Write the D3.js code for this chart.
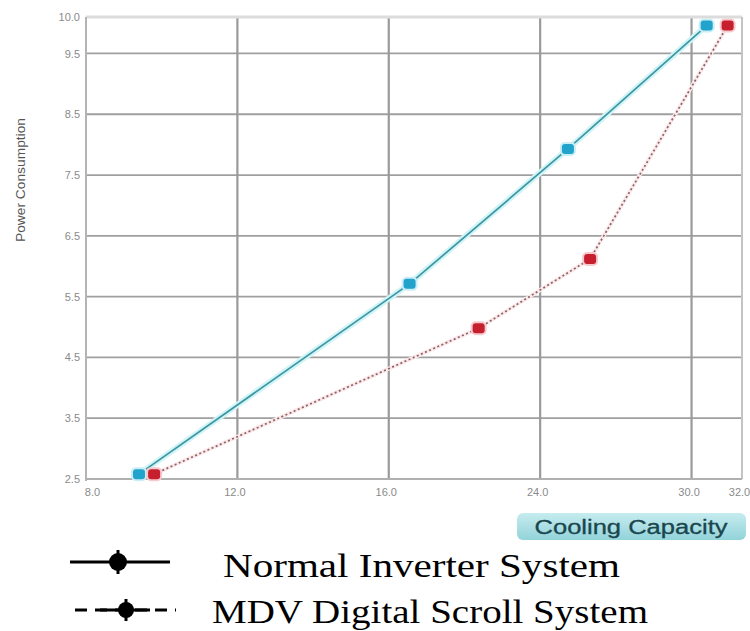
<!DOCTYPE html>
<html>
<head>
<meta charset="utf-8">
<script src="https://cdn.jsdelivr.net/npm/d3@7/dist/d3.min.js"></script>
<style>
  html, body { margin: 0; padding: 0; background: #ffffff; }
  svg { display: block; }
</style>
</head>
<body>
<svg id="chart" width="750" height="631"></svg>
<script>
// ---- data ----
const xTickValues = [8, 12, 16, 24, 30, 32];
const xTickLabels = ["8.0", "12.0", "16.0", "24.0", "30.0", "32.0"];
const yTickValues = [2.5, 3.5, 4.5, 5.5, 6.5, 7.5, 8.5, 9.5, 10.0];
const yTickLabels = ["2.5", "3.5", "4.5", "5.5", "6.5", "7.5", "8.5", "9.5", "10.0"];

const seriesNames = ["Normal Inverter System", "MDV Digital Scroll System"];
const normalCapacity = [9.4, 17.1, 25.1, 30.6];
const normalPower    = [2.58, 5.71, 7.93, 9.96];
const mdvCapacity    = [9.8, 20.75, 25.98, 31.43];
const mdvPower       = [2.58, 4.98, 6.12, 9.96];

const xTitle = "Cooling Capacity";
const yTitle = "Power Consumption";

// ---- layout ----
const svg = d3.select("#chart");
const pL = 86, pR = 742, pT = 17, pB = 479;

// piecewise axis: each labelled interval gets equal width, last keeps previous rate
const idx = [0];
for (let i = 1; i < xTickValues.length; i++) {
  const isLast = i === xTickValues.length - 1;
  const step = isLast
    ? (xTickValues[i] - xTickValues[i - 1]) / (xTickValues[i - 1] - xTickValues[i - 2])
    : 1;
  idx.push(idx[i - 1] + step);
}
const total = idx[idx.length - 1];
const x = d3.scaleLinear()
  .domain(xTickValues)
  .range(idx.map(v => pL + (v / total) * (pR - pL)));

const y = d3.scaleLinear().domain([2.5, 10.1]).range([pB, pT]);

// ---- grid ----
const grid = svg.append("g");
grid.selectAll("line.h").data(yTickValues.filter(v => v < 10)).enter().append("line")
  .attr("x1", pL).attr("x2", pR)
  .attr("y1", d => y(d)).attr("y2", d => y(d))
  .attr("stroke", "#9f9f9f").attr("stroke-width", 1.8);
grid.selectAll("line.v").data(xTickValues.slice(1, -1)).enter().append("line")
  .attr("y1", pT).attr("y2", pB)
  .attr("x1", d => x(d)).attr("x2", d => x(d))
  .attr("stroke", "#9a9a9a").attr("stroke-width", 2.2);

// frame
svg.append("line").attr("x1", pL).attr("x2", pR).attr("y1", pT).attr("y2", pT)
  .attr("stroke", "#dcdcdc").attr("stroke-width", 3);
svg.append("line").attr("x1", pR).attr("x2", pR).attr("y1", pT).attr("y2", pB)
  .attr("stroke", "#c4c4c4").attr("stroke-width", 2);
svg.append("line").attr("x1", pL).attr("x2", pL).attr("y1", pT).attr("y2", pB + 2)
  .attr("stroke", "#b4b4b4").attr("stroke-width", 2);
svg.append("line").attr("x1", pL).attr("x2", pR).attr("y1", pB).attr("y2", pB)
  .attr("stroke", "#b0b0b0").attr("stroke-width", 2);

// ---- axes (tick labels) ----
const yAxis = d3.axisLeft(y).tickValues(yTickValues)
  .tickFormat((d, i) => yTickLabels[i]).tickSize(0).tickPadding(6);
const gy = svg.append("g").attr("transform", `translate(${pL},0)`).call(yAxis);
gy.select(".domain").remove();
gy.selectAll("text").attr("font-family", "Arial, 'Liberation Sans', sans-serif")
  .attr("font-size", 11).attr("fill", "#8a8a8a")
  .attr("dy", (d) => d === 10 ? "-0.2em" : "0.32em");

const xAxis = d3.axisBottom(x).tickValues(xTickValues)
  .tickFormat((d, i) => xTickLabels[i]).tickSize(0).tickPadding(9);
const gx = svg.append("g").attr("transform", `translate(0,${pB})`).call(xAxis);
gx.select(".domain").remove();
gx.selectAll("text").attr("font-family", "Arial, 'Liberation Sans', sans-serif")
  .attr("font-size", 11).attr("fill", "#8a8a8a")
  .attr("dx", (d, i) => i === 0 ? 6 : -3);

// y title
svg.append("text")
  .attr("transform", `translate(25,${(pT + pB) / 2 - 68}) rotate(-90)`)
  .attr("text-anchor", "middle")
  .attr("font-family", "Arial, 'Liberation Sans', sans-serif")
  .attr("font-size", 12).attr("fill", "#555")
  .attr("textLength", 124).attr("lengthAdjust", "spacingAndGlyphs")
  .text(yTitle);

// x title badge
const defs = svg.append("defs");
const grad = defs.append("linearGradient").attr("id", "badge").attr("x1", 0).attr("x2", 0).attr("y1", 0).attr("y2", 1);
grad.append("stop").attr("offset", "0%").attr("stop-color", "#c6ecef");
grad.append("stop").attr("offset", "100%").attr("stop-color", "#92d3da");
svg.append("rect").attr("x", 517).attr("y", 513).attr("width", 229).attr("height", 27)
  .attr("rx", 6).attr("fill", "url(#badge)");
svg.append("text").attr("x", 631).attr("y", 534).attr("text-anchor", "middle")
  .attr("font-family", "Arial, 'Liberation Sans', sans-serif")
  .attr("font-size", 20).attr("fill", "#1a464d")
  .attr("stroke", "#1a464d").attr("stroke-width", 0.3)
  .attr("textLength", 193).attr("lengthAdjust", "spacingAndGlyphs")
  .text(xTitle);

// ---- series ----
const normal = normalCapacity.map((c, i) => ({ c, p: normalPower[i] }));
const mdv = mdvCapacity.map((c, i) => ({ c, p: mdvPower[i] }));
const line = d3.line().x(d => x(d.c)).y(d => y(d.p));

// normal: solid teal with halo
svg.append("path").datum(normal).attr("d", line).attr("fill", "none")
  .attr("stroke", "#d2f4f7").attr("stroke-width", 6).attr("stroke-linecap", "round");
svg.append("path").datum(normal).attr("d", line).attr("fill", "none")
  .attr("stroke", "#3c97a2").attr("stroke-width", 1.7);

// mdv: dotted red-gray
svg.append("path").datum(mdv).attr("d", line).attr("fill", "none")
  .attr("stroke", "#fbeaec").attr("stroke-width", 4);
svg.append("path").datum(mdv).attr("d", line).attr("fill", "none")
  .attr("stroke", "#8f6065").attr("stroke-width", 1.7).attr("stroke-dasharray", "2,2.5");

function markers(data, fill, halo) {
  const g = svg.append("g");
  g.selectAll("rect.h").data(data).enter().append("rect")
    .attr("x", d => x(d.c) - 8).attr("y", d => y(d.p) - 7)
    .attr("width", 16).attr("height", 14).attr("rx", 5).attr("fill", halo);
  g.selectAll("rect.m").data(data).enter().append("rect")
    .attr("x", d => x(d.c) - 6).attr("y", d => y(d.p) - 5)
    .attr("width", 12).attr("height", 10).attr("rx", 3).attr("fill", fill);
}
markers(normal, "#22a3cb", "#c9eef6");
markers(mdv, "#c61f2e", "#f6c9cd");

// ---- legend ----
const legend = svg.append("g");
// row 1 solid
legend.append("line").attr("x1", 70).attr("x2", 170).attr("y1", 562).attr("y2", 562)
  .attr("stroke", "#000").attr("stroke-width", 3);
legend.append("circle").attr("cx", 118).attr("cy", 562).attr("r", 9).attr("fill", "#000");
legend.append("line").attr("x1", 118).attr("x2", 118).attr("y1", 550).attr("y2", 574)
  .attr("stroke", "#000").attr("stroke-width", 3);
legend.append("text").attr("x", 223).attr("y", 577)
  .attr("font-family", "'Liberation Serif', 'Times New Roman', serif")
  .attr("font-size", 33).attr("fill", "#000")
  .attr("textLength", 397).attr("lengthAdjust", "spacingAndGlyphs")
  .text(seriesNames[0]);
// row 2 dashed
legend.append("line").attr("x1", 75).attr("x2", 176).attr("y1", 610).attr("y2", 610)
  .attr("stroke", "#000").attr("stroke-width", 3).attr("stroke-dasharray", "12,8");
legend.append("line").attr("x1", 100).attr("x2", 150).attr("y1", 610).attr("y2", 610)
  .attr("stroke", "#000").attr("stroke-width", 3);
legend.append("circle").attr("cx", 126).attr("cy", 610).attr("r", 8).attr("fill", "#000");
legend.append("line").attr("x1", 126).attr("x2", 126).attr("y1", 599).attr("y2", 621)
  .attr("stroke", "#000").attr("stroke-width", 3);
legend.append("text").attr("x", 212).attr("y", 623)
  .attr("font-family", "'Liberation Serif', 'Times New Roman', serif")
  .attr("font-size", 33).attr("fill", "#000")
  .attr("textLength", 436).attr("lengthAdjust", "spacingAndGlyphs")
  .text(seriesNames[1]);
</script>
</body>
</html>
